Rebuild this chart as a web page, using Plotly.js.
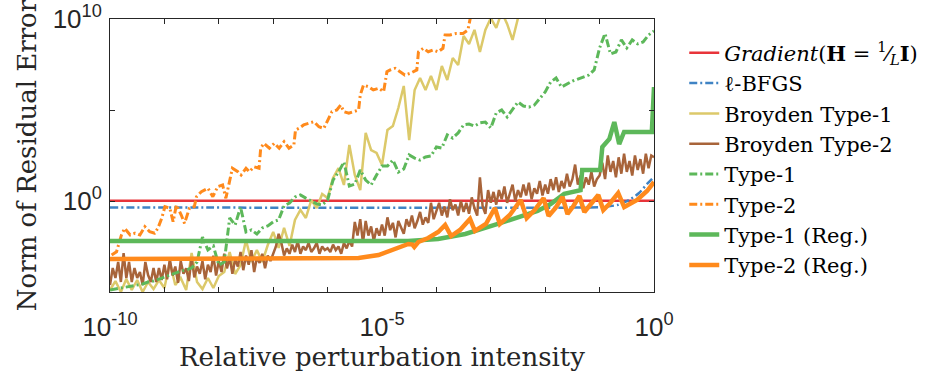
<!DOCTYPE html>
<html>
<head>
<meta charset="utf-8">
<script src="https://cdn.plot.ly/plotly-3.0.1.min.js"></script>
<style>html,body{margin:0;padding:0;background:#fff;}#chart{width:935px;height:375px;}</style>
</head>
<body>
<div id="chart"></div>
<script>
// All values are log10 exponents.
const seriesNames = ['<i>Gradient</i>(<b>H</b> = <sup>1</sup>⁄<sub><i>L</i></sub><b>I</b>)', 'ℓ-BFGS', 'Broyden Type-1', 'Broyden Type-2', 'Type-1', 'Type-2', 'Type-1 (Reg.)', 'Type-2 (Reg.)'];

const gradientLogX = [-10, 0];
const gradientLogY = [0.02, 0.02];

const lbfgsLogX = [-10, -1.225, -0.951, -0.676, -0.457, -0.274, -0.128, 0];
const lbfgsLogY = [-0.357, -0.357, -0.33, -0.22, 0.055, 0.44, 0.934, 1.319];

// sampled every 0.1 decade starting at 1e-10
const broyden1Start = -10, broyden1Step = 0.1;
const broyden1LogY = [-4.89,-4.40,-5.0,-4.29,-4.89,-4.34,-5.0,-4.45,-4.84,-4.34,
  -4.78,-3.35,-4.62,-4.23,-4.89,-2.86,-4.45,-4.84,-4.23,-4.78,
  -4.12,-3.90,-2.80,-4.01,-3.52,-2.14,-3.35,-2.69,-3.35,-2.42,
  -1.70,-2.58,-1.48,-2.47,-1.04,-0.49,-0.93,0.05,-0.38,0.38,
  0.16,1.26,1.81,0.88,3.08,1.43,0.60,3.74,2.80,2.64,
  1.98,3.90,4.12,5.11,6.32,3.35,6.10,6.76,6.10,6.87,
  6.10,7.42,6.65,7.86,7.47,9.07,8.63,9.40,8.19,9.40,
  10.05,9.51,10.38,9.73,8.85,10.05,10.77];

// sampled every 0.05 decade starting at 1e-10
const broyden2Start = -10, broyden2Step = 0.05;
const broyden2LogY = [-4.62,-3.68,-4.23,-3.35,-4.45,-2.86,-4.23,-3.35,-4.45,-3.68,-4.23,-3.90,-4.62,-3.35,-4.07,-4.45,-3.68,-4.45,-3.68,-4.34,
  -3.5,-4.3,-3.2,-4.1,-3.6,-4.5,-3.3,-4.0,-3.7,-4.4,-3.1,-4.2,-3.6,-4.0,-3.3,-4.3,-3.5,-3.9,-3.0,-4.1,
  -3.3,-3.9,-2.9,-3.7,-3.1,-4.0,-3.2,-3.6,-2.8,-3.8,-3.0,-3.5,-2.7,-3.9,-3.1,-3.4,-2.9,-3.7,-3.0,-3.3,
  -2.9,-2.5,-1.8,-2.3,-3.0,-2.6,-2.9,-2.4,-2.8,-2.2,-2.9,-2.5,-2.7,-2.3,-2.8,-2.6,-2.3,-2.9,-2.5,-2.7,
  -2.6,-2.8,-2.4,-2.7,-2.5,-2.9,-2.3,-2.6,-2.2,-2.5,-1.15,-1.9,-1.0,-2.3,-1.1,-1.9,-1.4,-2.2,-1.5,-1.9,
  -1.3,-1.9,-0.9,-1.6,-1.2,-2.0,-1.1,-1.5,-1.8,-1.0,-1.4,-0.8,-1.5,-1.1,-0.6,-1.3,-0.9,-1.2,-0.1,-1.0,
  -0.6,-0.1,-0.8,-0.3,-0.9,0.1,-0.5,-0.2,-0.8,0.0,-0.6,-0.1,-0.7,0.2,-0.4,-0.8,1.3,-0.3,-0.7,0.6,
  -0.1,0.5,-0.2,0.6,0.1,0.8,-0.1,0.4,0.9,0.0,0.6,0.2,0.9,0.3,1.0,0.1,0.7,0.4,1.1,0.3,
  0.9,0.4,1.2,0.6,1.3,0.5,1.1,0.7,1.5,0.8,1.2,2.0,0.9,1.4,0.7,1.3,0.9,1.6,0.8,1.2,
  1.4,2.1,1.2,2.5,1.6,2.2,1.3,2.4,1.5,2.6,1.6,2.2,1.4,2.5,1.7,2.3,1.5,2.6,1.8,2.5,2.4];

// sampled every 0.1 decade starting at 1e-10
const type1Start = -10, type1Step = 0.1;
const type1LogY = [-4.89,-4.84,-4.78,-4.73,-4.67,-4.62,-4.56,-4.45,-4.40,-4.29,
  -4.18,-4.07,-3.96,-3.85,-3.79,-3.68,-3.35,-1.98,-2.69,-2.47,
  -3.52,-3.35,-0.93,-1.32,-0.33,-1.70,-1.59,-1.81,-1.48,-1.37,
  -1.15,-1.04,-0.27,-0.11,0.22,0.33,0.16,0.0,-0.16,-0.22,
  0.05,1.15,1.59,2.14,0.82,0.93,1.70,1.15,0.88,1.43,
  1.92,1.92,2.25,1.59,1.76,2.53,2.36,2.25,2.42,2.47,
  2.97,2.91,3.63,3.46,3.74,4.18,4.23,4.12,4.29,4.34,
  4.01,4.84,5.0,4.62,5.0,5.44,5.22,5.16,5.27,5.66,
  5.99,6.54,6.76,6.26,6.43,6.59,6.70,6.81,6.92,7.20,
  8.41,9.2,8.08,8.19,8.85,8.41,8.85,8.63,8.74,9.12,
  9.34];

const type2LogX = [-9.97,-9.88,-9.79,-9.73,-9.63,-9.54,-9.45,-9.36,-9.27,-9.18,-9.12,-9.05,-8.99,-8.90,-8.84,-8.78,-8.69,-8.63,-8.54,-8.45,-8.41,-8.32,-8.20,-8.11,-8.02,-7.93,-7.87,-7.81,-7.75,-7.65,-7.59,-7.50,-7.44,-7.35,-7.26,-7.23,-7.17,-7.07,-6.98,-6.89,-6.80,-6.71,-6.62,-6.59,-6.53,-6.44,-6.34,-6.25,-6.16,-6.07,-5.98,-5.92,-5.83,-5.76,-5.70,-5.61,-5.52,-5.43,-5.40,-5.34,-5.25,-5.16,-5.06,-4.97,-4.91,-4.85,-4.76,-4.67,-4.58,-4.48,-4.36,-4.33,-4.24,-4.15,-4.06,-3.97,-3.88,-3.84,-3.75,-3.63,-3.51,-3.42,-3.38,-3.33];
const type2LogY = [-2.97,-2.79,-1.87,-1.50,-1.87,-1.77,-1.87,-1.41,-1.69,-1.77,-1.50,-0.95,-0.31,-0.40,-1.14,-0.22,-0.77,-1.23,-0.40,-0.31,0.24,0.51,0.70,0.24,0.79,0.88,0.15,1.06,1.80,1.61,1.43,1.80,1.61,1.88,1.80,2.90,3.17,2.90,3.17,2.90,3.26,2.90,3.08,3.90,3.99,4.18,4.27,4.36,4.08,3.99,4.54,4.91,5.00,5.27,4.91,4.82,4.91,5.00,5.82,6.37,6.28,6.10,6.19,6.01,7.10,7.20,7.29,7.10,6.92,7.02,7.20,8.20,8.39,8.20,8.30,8.20,8.39,9.12,9.12,9.21,9.21,9.40,10.04,10.77];

const type1RegLogX = [-10, -4.52, -3.97, -3.47, -2.87, -2.51, -2.14, -1.90, -1.65, -1.35, -1.32, -0.99, -0.95, -0.82, -0.73, -0.64, -0.55, -0.04, 0];
const type1RegLogY = [-2.2, -2.2, -2.09, -1.81, -1.26, -0.93, -0.55, -0.17, 0.39, 0.60, 1.70, 1.70, 2.97, 3.41, 4.34, 3.13, 3.79, 3.79, 6.26];

const type2RegLogX = [-10, -5.795, -5.43, -5.064, -4.698, -4.516, -4.442, -4.406, -4.333, -4.15, -3.967, -3.839, -3.729, -3.565, -3.382, -3.291, -3.09, -2.925, -2.834, -2.651, -2.45, -2.34, -2.194, -2.029, -1.938, -1.81, -1.682, -1.59, -1.481, -1.371, -1.28, -1.152, -1.024, -0.932, -0.804, -0.658, -0.548, -0.311, -0.128, 0];
const type2RegLogY = [-3.187, -3.187, -3.132, -2.967, -2.582, -2.363, -2.39, -2.527, -2.253, -2.033, -1.703, -1.319, -1.923, -1.593, -0.989, -1.648, -1.264, -0.385, -1.264, -0.769, 0.055, -0.934, -0.495, 0.165, -0.824, -0.385, 0.22, -0.714, -0.275, 0.275, -0.604, -0.165, 0.33, -0.495, -0.11, 0.44, -0.33, 0.055, 0.549, 1.044];

const xTickExp = [-10, -5, 0];
const xTickText = ['10<sup>-10</sup>', '10<sup>-5</sup>', '10<sup>0</sup>'];
const xMinorTickExp = [-9, -8, -7, -6, -4, -3, -2, -1];
const yTickExp = [0, 10];
const yTickText = ['10<sup>0</sup>', '10<sup>10</sup>'];
const yMinorTickExp = [5];

const colors = ['#E8343A', '#3F83C4', '#DCC96A', '#A8643A', '#5DB85A', '#FF8A1C', '#5DB85A', '#FF8A1C'];

const pow = a => a.map(v => Math.pow(10, v));
const grid = (start, step, n) => Array.from({length: n}, (_, i) => start + i * step);
const dashDot = '8px,3px,2px,3px';

const traces = [
  {x: pow(gradientLogX), y: pow(gradientLogY), line: {color: colors[0], width: 2.5}},
  {x: pow(lbfgsLogX), y: pow(lbfgsLogY), line: {color: colors[1], width: 2.5, dash: dashDot, shape: 'spline', smoothing: 0.6}},
  {x: pow(grid(broyden1Start, broyden1Step, broyden1LogY.length)), y: pow(broyden1LogY), line: {color: colors[2], width: 2.5}},
  {x: pow(grid(broyden2Start, broyden2Step, broyden2LogY.length)), y: pow(broyden2LogY), line: {color: colors[3], width: 2.5}},
  {x: pow(grid(type1Start, type1Step, type1LogY.length)), y: pow(type1LogY), line: {color: colors[4], width: 3, dash: dashDot}},
  {x: pow(type2LogX), y: pow(type2LogY), line: {color: colors[5], width: 3, dash: dashDot}},
  {x: pow(type1RegLogX), y: pow(type1RegLogY), line: {color: colors[6], width: 4.5}},
  {x: pow(type2RegLogX), y: pow(type2RegLogY), line: {color: colors[7], width: 4.5}}
].map((t, i) => Object.assign(t, {type: 'scatter', mode: 'lines', name: seriesNames[i], hoverinfo: 'skip'}));

const axisCommon = {
  type: 'log', showgrid: false, zeroline: false, showline: true, linecolor: '#262626', linewidth: 1,
  mirror: 'ticks', ticks: 'inside', ticklen: 5, tickwidth: 1, tickcolor: '#262626',
  tickfont: {family: 'Liberation Sans, Arial, sans-serif', size: 26, color: '#262626'}
};
const minorCommon = {ticks: 'inside', ticklen: 5, tickwidth: 1, tickcolor: '#262626', showgrid: false};

const layout = {
  width: 935, height: 375,
  margin: {l: 110, r: 278, t: 19, b: 83},
  paper_bgcolor: '#ffffff', plot_bgcolor: '#ffffff',
  showlegend: true,
  legend: {x: 1.0556, xanchor: 'left', y: 0.95, yanchor: 'top', bgcolor: 'rgba(0,0,0,0)',
    font: {family: 'DejaVu Serif, serif', size: 21, color: '#000'}, tracegroupgap: 0},
  xaxis: Object.assign({}, axisCommon, {
    range: [-10, 0], tickvals: pow(xTickExp), ticktext: xTickText, ticklabelstandoff: 12,
    minor: Object.assign({tickvals: pow(xMinorTickExp)}, minorCommon),
    title: {text: 'Relative perturbation intensity', font: {family: 'DejaVu Serif, serif', size: 26, color: '#262626'}, standoff: 0}
  }),
  yaxis: Object.assign({}, axisCommon, {
    range: [-5, 10], tickvals: pow(yTickExp), ticktext: yTickText, ticklabelstandoff: 2,
    minor: Object.assign({tickvals: pow(yMinorTickExp)}, minorCommon),
    title: {text: 'Norm of Residual Error', font: {family: 'DejaVu Serif, serif', size: 26, color: '#262626'}, standoff: 8}
  })
};

Plotly.newPlot('chart', traces, layout, {staticPlot: true, displayModeBar: false});
</script>
</body>
</html>
